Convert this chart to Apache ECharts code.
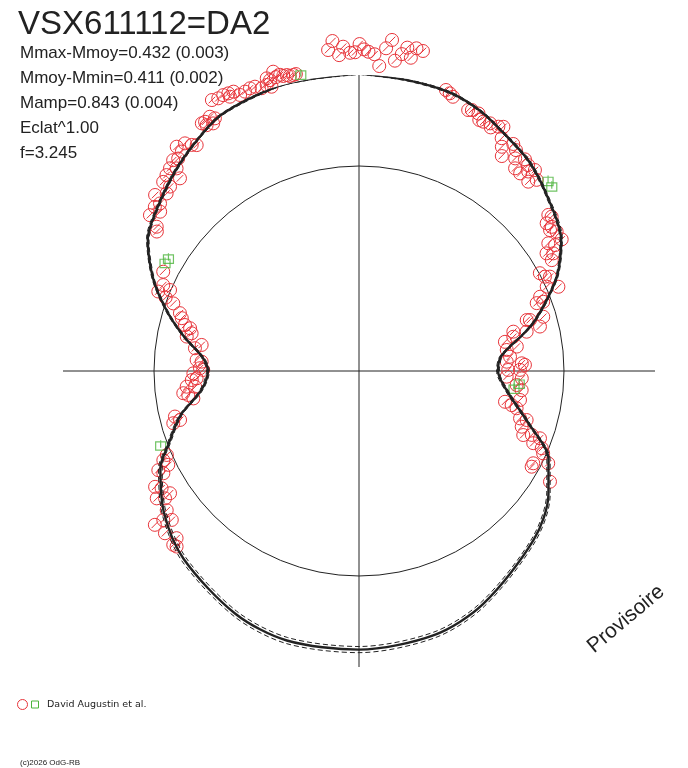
<!DOCTYPE html>
<html><head><meta charset="utf-8">
<script src="https://cdn.jsdelivr.net/npm/echarts@6/dist/echarts.min.js"></script>
<style>html,body{margin:0;padding:0;background:#fff}#c{width:688px;height:768px}</style>
</head><body><div id="c"></div>
<script>
// phase expressed in degrees (0 = top, clockwise), flux relative to mean (inner circle = 1)
const redPhaseDeg = [
 355.4,354.5,356.4,357.2,358.4,359.3,0.1,0.9,1.7,2.8,3.8,4.8,5.7,6.6,7.7,8.5,9.4,10.1,11.3,
 348.0,346.8,345.6,344.2,343.0,342.5,342.9,342.1,341.0,339.9,338.9,337.8,336.7,335.8,334.8,333.8,332.7,331.5,334.8,345.1,346.3,347.5,344.0,
 329.6,328.3,327.6,330.3,328.2,329.5,
 320.9,322.6,323.5,324.3,321.1,318.6,319.6,317.0,318.0,315.5,317.1,314.0,314.3,310.8,312.7,310.1,308.8,306.7,308.7,305.5,304.6,296.9,
 293.7,293.2,291.6,290.8,290.0,287.9,286.6,284.8,284.2,282.7,281.3,279.4,277.9,273.9,273.4,271.0,270.4,269.2,267.4,266.9,264.8,264.5,262.8,262.0,260.6,256.1,254.7,254.3,
 246.4,245.5,243.8,243.7,242.4,240.4,239.3,237.1,237.8,236.7,234.1,233.0,232.7,231.5,230.1,227.5,226.9,226.1,
 17.2,18.1,18.9,22.7,23.4,25.6,24.9,26.5,27.9,28.4,29.7,30.6,31.5,32.5,33.6,34.2,35.4,36.3,38.1,39.4,37.6,39.2,41.2,41.8,42.9,40.3,
 50.5,51.3,51.8,53.2,53.6,54.8,57.0,56.0,57.3,57.9,58.8,60.1,61.6,63.1,63.7,67.1,65.8,67.7,69.1,69.4,73.1,73.6,73.4,
 76.2,76.8,75.7,77.5,78.7,81.9,81.2,84.6,87.3,87.9,86.4,89.6,89.6,92.2,92.6,95.1,96.7,101.9,102.6,100.2,103.3,
 106.4,106.3,108.9,111.3,110.3,110.4,112.5,112.9,114.1,117.9,119.0,116.0,120.1
];
const redFlux = [
 1.615,1.573,1.544,1.584,1.553,1.555,1.595,1.569,1.558,1.547,1.491,1.580,1.623,1.524,1.560,1.595,1.549,1.599,1.592,
 1.481,1.478,1.486,1.490,1.484,1.497,1.451,1.466,1.459,1.477,1.478,1.472,1.466,1.494,1.497,1.500,1.497,1.504,1.479,1.495,1.486,1.479,1.519,
 1.438,1.429,1.431,1.419,1.411,1.402,
 1.410,1.398,1.372,1.357,1.376,1.371,1.361,1.352,1.330,1.340,1.283,1.328,1.288,1.314,1.277,1.269,1.278,1.272,1.243,1.212,1.198,1.071,
 1.043,1.003,1.053,1.009,0.964,0.918,0.902,0.878,0.850,0.837,0.857,0.778,0.808,0.794,0.769,0.776,0.760,0.808,0.793,0.817,0.844,0.803,0.864,0.841,0.819,0.925,0.905,0.941,
 1.023,1.049,1.037,1.092,1.077,1.144,1.120,1.098,1.166,1.132,1.158,1.247,1.200,1.167,1.234,1.207,1.241,1.235,
 1.435,1.425,1.414,1.380,1.387,1.358,1.385,1.359,1.367,1.351,1.372,1.384,1.332,1.297,1.259,1.339,1.322,1.287,1.312,1.300,1.248,1.244,1.303,1.239,1.273,1.276,
 1.197,1.204,1.165,1.174,1.158,1.180,1.179,1.114,1.137,1.080,1.108,1.085,1.003,1.017,1.039,1.056,1.004,0.955,0.928,0.960,0.855,0.937,0.870,
 0.909,0.840,0.777,0.771,0.726,0.728,0.779,0.740,0.795,0.810,0.722,0.728,0.785,0.721,0.795,0.772,0.799,0.728,0.763,0.798,0.790,
 0.819,0.852,0.839,0.860,0.899,0.942,0.920,0.968,0.984,0.962,0.963,1.027,1.077
];
const greenPhaseDeg = [348.9,300.6,299.2,44.8,46.2,94.4,96.4,249.5];
const greenFlux     = [1.475,1.080,1.084,1.309,1.303,0.784,0.761,1.033];

const curvePhaseDeg = [0,9,18,25,31,39,47,57,64,69,74,77,84,90,98,107,115,123,134,152,164,180,195,207,223,234,244,249,256,263,270,275,281,287,294,302,308,317,325,332,344,351,360];
const curveFlux = [1.451,1.439,1.429,1.400,1.360,1.317,1.254,1.176,1.078,0.985,0.893,0.829,0.698,0.678,0.732,0.863,1.020,1.102,1.185,1.288,1.339,1.359,1.361,1.329,1.254,1.176,1.078,0.995,0.898,0.776,0.737,0.766,0.868,0.976,1.098,1.215,1.259,1.322,1.376,1.420,1.444,1.444,1.451];
const curveErr = [0.004,0.004,0.005,0.005,0.005,0.006,0.006,0.007,0.007,0.007,0.007,0.007,0.007,0.007,0.008,0.008,0.009,0.010,0.011,0.013,0.014,0.015,0.015,0.014,0.013,0.011,0.010,0.009,0.008,0.008,0.007,0.007,0.007,0.007,0.007,0.007,0.006,0.006,0.005,0.005,0.004,0.004,0.004];

const titleText = 'VSX611112=DA2';
const statLines = ['Mmax-Mmoy=0.432 (0.003)','Mmoy-Mmin=0.411 (0.002)','Mamp=0.843 (0.004)','Eclat^1.00','f=3.245'];
const legendText = 'David Augustin et al.';
const copyrightText = '(c)2026 OdG-RB';
const watermarkText = 'Provisoire';

const RED = '#e8343a', GREEN = '#4cb43c', INK = '#222222';
const circleSlash = 'path://M10,0A10,10,0,1,1,10,20A10,10,0,1,1,10,0ZM5,15L15,5';
const squareLine = 'path://M0,0L20,0L20,20L0,20ZM10,-4L10,14';

const chart = echarts.init(document.getElementById('c'), null, {renderer: 'canvas'});
const pairs = (ph, fl) => ph.map((p, i) => [fl[i], p]);

const statGraphics = statLines.map((t, i) => ({
  type: 'text', x: 20, y: 53 + i * 25,
  style: {text: t, font: '17px "Liberation Sans", Arial, sans-serif', fill: INK, align: 'left', verticalAlign: 'middle'}
}));

chart.setOption({
  animation: false,
  backgroundColor: '#ffffff',
  polar: {center: [359, 371], radius: 296},
  angleAxis: {
    type: 'value', min: 0, max: 360, interval: 90, startAngle: 90, clockwise: true,
    axisLine: {show: false}, axisTick: {show: false}, axisLabel: {show: false},
    splitLine: {show: true, lineStyle: {color: INK, width: 1}}
  },
  radiusAxis: {
    type: 'value', min: 0, max: 1.444, interval: 1,
    axisLine: {show: false}, axisTick: {show: false}, axisLabel: {show: false},
    splitLine: {show: true, lineStyle: {color: ['rgba(0,0,0,0)', INK, 'rgba(0,0,0,0)'], width: 1}}
  },
  series: [
    {type: 'scatter', coordinateSystem: 'polar', data: pairs(redPhaseDeg, redFlux), clip: false,
     symbol: circleSlash, symbolSize: 13, z: 2,
     itemStyle: {color: 'rgba(0,0,0,0)', borderColor: RED, borderWidth: 1, opacity: 1}},
    {type: 'scatter', coordinateSystem: 'polar', data: pairs(greenPhaseDeg, greenFlux), clip: false,
     symbol: squareLine, symbolSize: [10, 10], z: 3,
     itemStyle: {color: 'rgba(0,0,0,0)', borderColor: GREEN, borderWidth: 1.2}},
    {type: 'line', coordinateSystem: 'polar', clip: false, showSymbol: false, smooth: 0.3, z: 5,
     data: curvePhaseDeg.map((p, i) => [curveFlux[i] + curveErr[i], p]),
     lineStyle: {color: INK, width: 1, type: [5, 3]}},
    {type: 'line', coordinateSystem: 'polar', clip: false, showSymbol: false, smooth: 0.3, z: 5,
     data: curvePhaseDeg.map((p, i) => [curveFlux[i] - curveErr[i], p]),
     lineStyle: {color: INK, width: 1, type: [5, 3]}},
    {type: 'line', coordinateSystem: 'polar', clip: false, showSymbol: false, smooth: 0.3, z: 6,
     data: pairs(curvePhaseDeg, curveFlux),
     lineStyle: {color: INK, width: 2.4}}
  ],
  graphic: [
    {type: 'text', x: 18, y: 25, style: {text: titleText, font: '33px "Liberation Sans", Arial, sans-serif', fill: INK, align: 'left', verticalAlign: 'middle'}},
    ...statGraphics,
    {type: 'circle', shape: {cx: 22.5, cy: 704.5, r: 5}, style: {fill: 'none', stroke: RED, lineWidth: 1}},
    {type: 'rect', shape: {x: 31.5, y: 701, width: 7, height: 7}, style: {fill: 'none', stroke: GREEN, lineWidth: 1}},
    {type: 'text', x: 47, y: 705, style: {text: legendText, font: '9.5px "DejaVu Sans", sans-serif', fill: INK, align: 'left', verticalAlign: 'middle'}},
    {type: 'text', x: 20, y: 763, style: {text: copyrightText, font: '8px "Liberation Sans", Arial, sans-serif', fill: INK, align: 'left', verticalAlign: 'middle'}},
    {type: 'text', x: 626, y: 619, rotation: 40 * Math.PI / 180,
     style: {text: watermarkText, font: '21px "Liberation Sans", Arial, sans-serif', fill: INK, align: 'center', verticalAlign: 'middle'}}
  ]
});
</script></body></html>
